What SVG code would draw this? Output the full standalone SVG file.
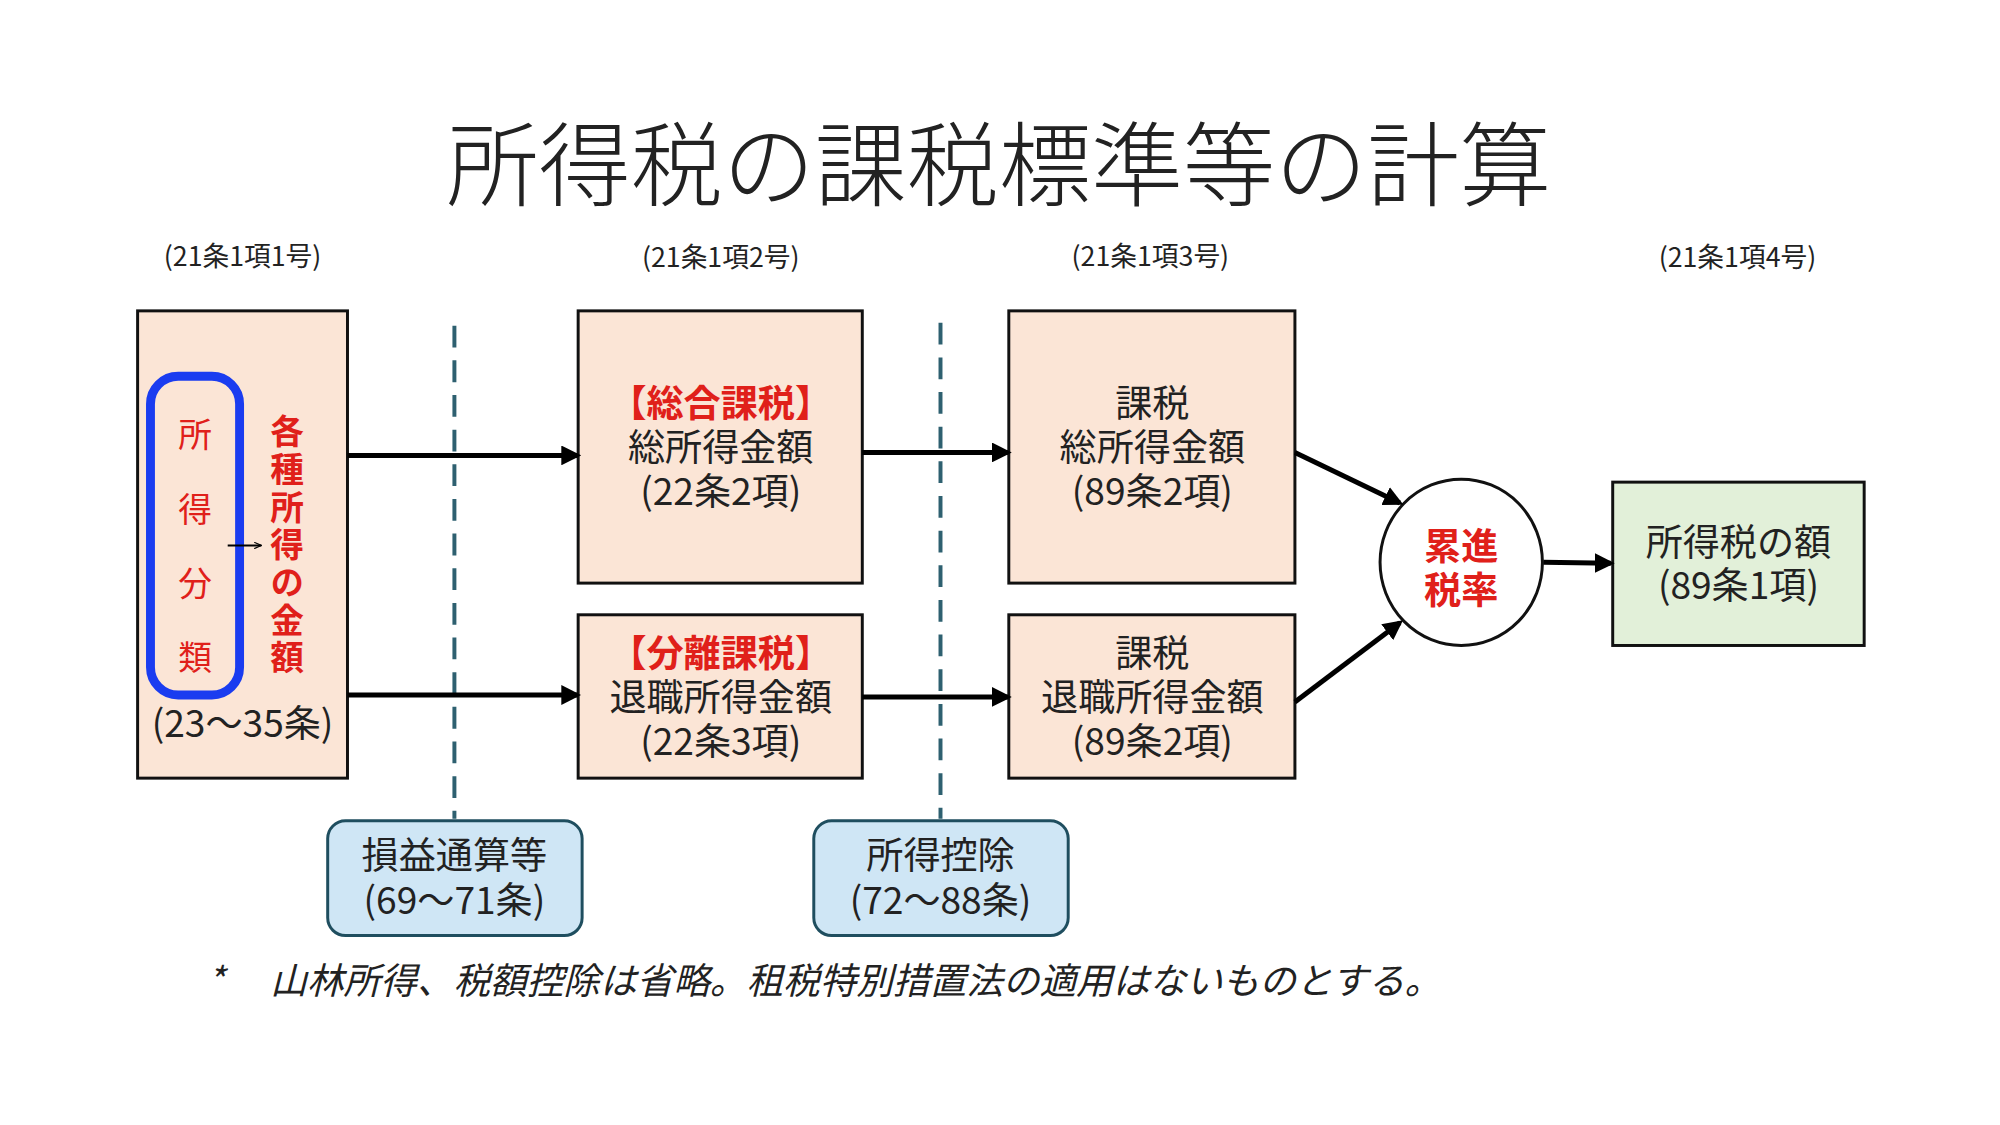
<svg xmlns="http://www.w3.org/2000/svg" width="2000" height="1125" viewBox="0 0 2000 1125">
<style>
text{font-family:"Noto Sans CJK JP","Noto Sans",sans-serif;fill:#222;text-anchor:middle;dominant-baseline:central}
.box{fill:#fbe5d6;stroke:#111;stroke-width:3}
.t{font-size:37.5px}
.r{fill:#e0201a;font-weight:bold}
.v{font-size:34px}
.ref{font-size:27px}
.blue{fill:#cfe6f5;stroke:#1f4e5f;stroke-width:3}
.c line{stroke:#000;stroke-width:5;marker-end:url(#ah)}
.d{stroke:#2e6070;stroke-width:4;stroke-dasharray:22 13}
</style>
<defs><marker id="ah" viewBox="0 0 10 10" refX="8" refY="5" markerWidth="4" markerHeight="4" orient="auto"><path d="M0,0L10,5L0,10z" fill="#000"/></marker>
<marker id="sa" viewBox="0 0 10 10" refX="9" refY="5" markerWidth="8" markerHeight="8" orient="auto" markerUnits="userSpaceOnUse"><path d="M0,1L9,5L0,9" fill="none" stroke="#000" stroke-width="1.5"/></marker></defs>
<rect width="2000" height="1125" fill="#fff"/>
<g transform="scale(0.99)">
<text x="1009" y="161" style="font-size:93px;font-weight:300">所得税の課税標準等の計算</text>
<g class="ref"><text x="245" y="257">(21条1項1号)</text><text x="728" y="258">(21条1項2号)</text><text x="1162" y="257">(21条1項3号)</text><text x="1755" y="258">(21条1項4号)</text></g>
<g id="dashes"><line class="d" x1="459" y1="329" x2="459" y2="827"/><line class="d" x1="950" y1="326" x2="950" y2="827"/></g>
<g id="n1"><rect class="box" x="139" y="314" width="212" height="472"/>
<rect x="152" y="380" width="90" height="322" rx="28" fill="none" stroke="#1a3cf0" stroke-width="9"/>
<text class="v r" style="font-weight:normal;writing-mode:vertical-rl;letter-spacing:41px" x="197" y="572">所得分類</text>
<text class="v r" style="writing-mode:vertical-rl;letter-spacing:4px" x="290" y="552">各種所得の金額</text>
<text class="t" x="245" y="728">(23〜35条)</text>
<line x1="230" y1="551" x2="264" y2="551" stroke="#000" stroke-width="2" marker-end="url(#sa)"/></g>
<g id="n2" class="t"><rect class="box" x="584" y="314" width="287" height="275"/><text class="r" x="728" y="405">【総合課税】</text><text x="728" y="450">総所得金額</text><text x="728" y="494">(22条2項)</text></g>
<g id="n3" class="t"><rect class="box" x="584" y="621" width="287" height="165"/><text class="r" x="728" y="658">【分離課税】</text><text x="728" y="702">退職所得金額</text><text x="728" y="746">(22条3項)</text></g>
<g id="n4" class="t"><rect class="box" x="1019" y="314" width="289" height="275"/><text x="1164" y="405">課税</text><text x="1164" y="450">総所得金額</text><text x="1164" y="494">(89条2項)</text></g>
<g id="n5" class="t"><rect class="box" x="1019" y="621" width="289" height="165"/><text x="1164" y="658">課税</text><text x="1164" y="702">退職所得金額</text><text x="1164" y="746">(89条2項)</text></g>
<g id="n6" class="t"><ellipse cx="1476" cy="568" rx="82" ry="84" fill="#fff" stroke="#111" stroke-width="3"/><text class="r" x="1476" y="550">累進</text><text class="r" x="1476" y="594">税率</text></g>
<g id="n7" class="t"><rect x="1629" y="487" width="254" height="165" fill="#e2f0d9" stroke="#111" stroke-width="3"/><text x="1756" y="545">所得税の額</text><text x="1756" y="589">(89条1項)</text></g>
<g id="b1" class="t"><rect class="blue" x="331" y="829" width="257" height="116" rx="18"/><text x="459" y="862">損益通算等</text><text x="459" y="907">(69〜71条)</text></g>
<g id="b2" class="t"><rect class="blue" x="822" y="829" width="257" height="116" rx="18"/><text x="950" y="862">所得控除</text><text x="950" y="907">(72〜88条)</text></g>
<g class="c" id="connectors">
<line x1="351" y1="460" x2="583" y2="460"/><line x1="351" y1="702" x2="583" y2="702"/>
<line x1="871" y1="457" x2="1018" y2="457"/><line x1="871" y1="704" x2="1018" y2="704"/>
<line x1="1308" y1="457" x2="1414" y2="508"/><line x1="1308" y1="709" x2="1414" y2="629"/>
<line x1="1559" y1="568" x2="1627" y2="569"/></g>
<text x="218" y="988" style="font-size:37px;font-style:italic">*</text>
<text x="273" y="988" style="font-size:37px;font-style:italic;text-anchor:start">山林所得、税額控除は省略。租税特別措置法の適用はないものとする。</text>
</g>
</svg>
